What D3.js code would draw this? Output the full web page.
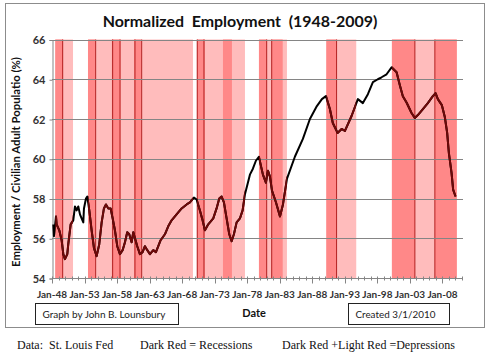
<!DOCTYPE html>
<html>
<head>
<meta charset="utf-8">
<script src="https://cdn.jsdelivr.net/npm/d3@7"></script>
<style>
  body { margin: 0; background: #fff; }
  text { white-space: pre; }
</style>
</head>
<body>
<script>
// Employment / civilian adult population (year, %)
var years = [1948.20,1948.30,1948.61,1948.71,1949.12,1949.48,1949.74,1949.99,1950.35,1950.50,
  1950.87,1951.27,1951.53,1951.79,1952.04,1952.30,1952.55,1952.81,1952.91,1953.22,
  1953.42,1953.73,1954.09,1954.45,1954.86,1955.26,1955.63,1955.98,1956.29,1956.65,
  1957.01,1957.32,1957.67,1958.03,1958.44,1958.85,1959.21,1959.56,1959.87,1960.23,
  1960.49,1960.75,1961.10,1961.51,1961.92,1962.28,1962.64,1963.05,1963.56,1963.97,
  1964.33,1964.69,1965.35,1965.86,1966.38,1966.89,1967.40,1967.92,1968.69,1969.19,
  1969.81,1970.22,1970.73,1971.14,1971.50,1972.01,1972.78,1973.29,1973.70,1974.06,
  1974.42,1974.83,1975.24,1975.60,1975.95,1976.37,1976.88,1977.29,1977.64,1978.15,
  1978.41,1978.87,1979.33,1979.79,1980.41,1980.87,1981.18,1981.49,1981.80,1982.42,
  1983.03,1983.49,1984.11,1985.32,1986.55,1987.63,1988.70,1989.47,1990.09,1990.70,
  1991.15,1991.88,1992.50,1993.01,1994.03,1995.00,1995.77,1996.54,1997.31,1998.07,
  1998.64,1999.41,2000.18,2000.95,2001.45,2001.91,2002.48,2003.25,2003.75,2004.22,
  2004.99,2005.75,2006.52,2006.94,2007.29,2007.90,2008.36,2008.72,2008.98,2009.39,
  2009.64,2010.01];
var values = [56.7,56.1,57.1,56.7,56.4,55.9,55.2,54.95,55.2,55.7,
  56.7,56.9,57.6,57.4,57.6,57.2,57.0,56.8,57.5,58.0,
  58.1,57.4,56.4,55.5,55.1,55.7,56.8,57.5,57.7,57.5,
  57.5,57.0,56.4,55.6,55.2,55.4,55.8,56.3,56.2,55.8,
  56.3,56.0,55.6,55.2,55.3,55.6,55.4,55.2,55.4,55.3,
  55.6,55.9,56.2,56.6,56.9,57.1,57.3,57.5,57.7,57.8,
  58.05,57.95,57.4,56.9,56.4,56.7,57.0,57.5,58.0,58.1,
  57.8,57.0,56.2,55.85,56.2,56.8,57.0,57.4,58.2,58.85,
  59.2,59.5,59.9,60.1,59.2,58.8,59.4,59.1,58.4,57.8,
  57.1,57.7,59.0,60.1,61.0,62.0,62.65,63.0,63.15,62.5,
  61.8,61.3,61.5,61.4,62.15,63.0,62.8,63.25,63.85,64.0,
  64.1,64.25,64.6,64.35,63.7,63.15,62.83,62.3,62.05,62.2,
  62.5,62.8,63.15,63.3,63.0,62.7,62.1,61.3,60.3,59.3,
  58.45,58.1];

// shaded periods (start year, end year)
var recessions = [[1948.5,1949.7],[1953.53,1954.65],[1957.2,1958.55],[1960.6,1961.67],
  [1970.27,1971.5],[1974.27,1975.65],[1979.8,1981.03],[1981.75,1983.45],
  [1990.15,1991.7],[2000.23,2003.76],[2006.83,2010.2]];
var depressions = [[1948.5,1951.23],[1953.53,1969.66],[1970.27,1977.65],[1979.8,1984.1],
  [1990.15,1994.75],[2000.23,2010.2]];
var markerYears = [1949.64,1954.71,1957.32,1958.45,1960.75,1961.78,1970.32,1971.35,
  1980.99,1981.76,1991.73,2003.76,2006.83];

var yTicks = [54,56,58,60,62,64,66];
var xTickYears = [1948,1953,1958,1963,1968,1973,1978,1983,1988,1993,1998,2003,2008];
var xTickLabels = ["Jan-48","Jan-53","Jan-58","Jan-63","Jan-68","Jan-73","Jan-78","Jan-83","Jan-88","Jan-93","Jan-98","Jan-03","Jan-08"];

var width = 490, height = 353;
var plotLeft = 52, plotRight = 462, plotTop = 39.5, plotBottom = 278;

var svg = d3.select("body").append("svg")
    .attr("width", width)
    .attr("height", height)
    .style("display", "block");

// chart frame
svg.append("rect")
   .attr("x", 5.5).attr("y", 3.5)
   .attr("width", 479).attr("height", 324)
   .attr("fill", "#fff")
   .attr("stroke", "#8c8c8c");

var x = d3.scaleLinear().domain([1948, 2011]).range([plotLeft, plotRight]);
var y = d3.scaleLinear().domain([54, 66]).range([plotBottom, plotTop]);

// light red = depressions, dark red = recessions
svg.append("g").selectAll("rect")
   .data(depressions).enter().append("rect")
   .attr("x", function(d) { return x(d[0]); })
   .attr("width", function(d) { return x(d[1]) - x(d[0]); })
   .attr("y", plotTop).attr("height", plotBottom - plotTop)
   .attr("fill", "#ffbcbc");

svg.append("g").selectAll("rect")
   .data(recessions).enter().append("rect")
   .attr("x", function(d) { return x(d[0]); })
   .attr("width", function(d) { return x(d[1]) - x(d[0]); })
   .attr("y", plotTop).attr("height", plotBottom - plotTop)
   .attr("fill", "#ff8888");

svg.append("g").selectAll("line")
   .data(markerYears).enter().append("line")
   .attr("x1", function(d) { return x(d); })
   .attr("x2", function(d) { return x(d); })
   .attr("y1", plotTop).attr("y2", plotBottom)
   .attr("stroke", "#b32020")
   .attr("stroke-width", 1);

// gridlines
svg.append("g").selectAll("line")
   .data(yTicks.slice(1)).enter().append("line")
   .attr("x1", plotLeft).attr("x2", plotRight + 1)
   .attr("y1", function(d) { return Math.round(y(d)) + 0.5; })
   .attr("y2", function(d) { return Math.round(y(d)) + 0.5; })
   .attr("stroke", "#858585");

// y axis
var yAxis = d3.axisLeft(y).tickValues(yTicks).tickSize(3).tickPadding(4);
var gy = svg.append("g").attr("transform", "translate(" + (plotLeft + 0.5) + ",0.5)").call(yAxis);
gy.select(".domain").attr("stroke", "#858585");
gy.selectAll(".tick line").attr("stroke", "#858585");
gy.selectAll(".tick text")
  .attr("font-family", "Lato, 'Open Sans', sans-serif")
  .attr("font-weight", "bold")
  .attr("font-size", 11)
  .attr("fill", "#333");

// x axis: yearly minor ticks, 5-year major ticks
var gx = svg.append("g").attr("transform", "translate(0," + (plotBottom + 0.5) + ")");
gx.append("line").attr("x1", plotLeft).attr("x2", plotRight + 1).attr("stroke", "#858585");
gx.selectAll(".minor")
  .data(d3.range(1948, 2012)).enter().append("line")
  .attr("class", "minor")
  .attr("x1", function(d) { return Math.round(x(d)) + 0.5; })
  .attr("x2", function(d) { return Math.round(x(d)) + 0.5; })
  .attr("y1", -2).attr("y2", 2)
  .attr("stroke", "#858585");
gx.selectAll(".major")
  .data(xTickYears).enter().append("line")
  .attr("class", "major")
  .attr("x1", function(d) { return Math.round(x(d)) + 0.5; })
  .attr("x2", function(d) { return Math.round(x(d)) + 0.5; })
  .attr("y1", 0).attr("y2", 5)
  .attr("stroke", "#858585");
gx.selectAll(".lbl")
  .data(xTickYears).enter().append("text")
  .attr("class", "lbl")
  .attr("x", function(d) { return x(d); })
  .attr("y", 19)
  .attr("text-anchor", "middle")
  .attr("font-family", "Lato, 'Open Sans', sans-serif")
  .attr("font-weight", "bold")
  .attr("font-size", 10)
  .attr("fill", "#333")
  .text(function(d, i) { return xTickLabels[i]; });

// employment line: black, maroon where it runs through shaded periods
var line = d3.line()
    .x(function(d, i) { return x(years[i]); })
    .y(function(d) { return y(d); });

var clip = svg.append("clipPath").attr("id", "shade");
clip.selectAll("rect")
    .data(depressions).enter().append("rect")
    .attr("x", function(d) { return x(d[0]); })
    .attr("width", function(d) { return x(d[1]) - x(d[0]); })
    .attr("y", 0).attr("height", height);

svg.append("path")
   .datum(values)
   .attr("d", line)
   .attr("fill", "none")
   .attr("stroke", "#000")
   .attr("stroke-width", 2)
   .attr("stroke-linejoin", "round");

svg.append("path")
   .datum(values)
   .attr("d", line)
   .attr("clip-path", "url(#shade)")
   .attr("fill", "none")
   .attr("stroke", "#6e0808")
   .attr("stroke-width", 2)
   .attr("stroke-linejoin", "round");

// helper: shrink/grow font so text spans a given width
function fitText(sel, w) {
  var len = sel.node().getComputedTextLength();
  var fs = parseFloat(sel.attr("font-size"));
  sel.attr("font-size", (fs * w / len).toFixed(2));
}

// titles
var title = svg.append("text")
   .attr("x", 240).attr("y", 27)
   .attr("text-anchor", "middle")
   .attr("font-family", "Lato, 'Open Sans', sans-serif")
   .attr("font-weight", "bold")
   .attr("font-size", 17)
   .attr("fill", "#111")
   .text("Normalized  Employment  (1948-2009)");
fitText(title, 275);

var ylab = svg.append("text")
   .attr("transform", "translate(20,162) rotate(-90)")
   .attr("text-anchor", "middle")
   .attr("font-family", "Lato, 'Open Sans', sans-serif")
   .attr("font-weight", "bold")
   .attr("font-size", 10)
   .attr("fill", "#111")
   .text("Employment / Civilian Adult Populatio (%)");
fitText(ylab, 210);

svg.append("text")
   .attr("x", 254).attr("y", 317)
   .attr("text-anchor", "middle")
   .attr("font-family", "Lato, 'Open Sans', sans-serif")
   .attr("font-weight", "bold")
   .attr("font-size", 11)
   .attr("fill", "#111")
   .text("Date");

// boxed notes
var notes = [{x: 35.5, w: 143, text: "Graph by John B. Lounsbury", tw: 123},
             {x: 348.5, w: 101, text: "Created 3/1/2010", tw: 80}];
notes.forEach(function(n) {
  svg.append("rect")
     .attr("x", n.x).attr("y", 303.5)
     .attr("width", n.w).attr("height", 21)
     .attr("fill", "#fff")
     .attr("stroke", "#222");
  var t = svg.append("text")
     .attr("x", n.x + 7).attr("y", 318)
     .attr("font-family", "Lato, 'Open Sans', sans-serif")
     .attr("font-size", 11)
     .attr("fill", "#222")
     .text(n.text);
  fitText(t, n.tw);
});

// footer
var footer = [{x: 17, text: "Data:  St. Louis Fed"},
              {x: 140, text: "Dark Red = Recessions"},
              {x: 282, text: "Dark Red +Light Red =Depressions"}];
svg.selectAll(".foot")
   .data(footer).enter().append("text")
   .attr("class", "foot")
   .attr("x", function(d) { return d.x; })
   .attr("y", 349)
   .attr("font-family", "'Liberation Serif', 'DejaVu Serif', serif")
   .attr("font-size", 12)
   .attr("fill", "#111")
   .text(function(d) { return d.text; });
</script>
</body>
</html>
